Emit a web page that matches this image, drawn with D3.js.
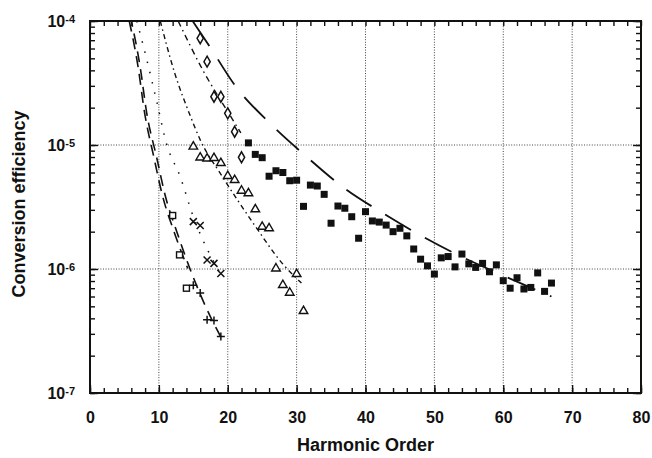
<!DOCTYPE html>
<html>
<head>
<meta charset="utf-8">
<script src="https://cdn.jsdelivr.net/npm/d3@7"></script>
<style>
  body { margin: 0; background: #fff; }
  svg text { font-family: "Liberation Sans", Arial, Helvetica, sans-serif; font-weight: bold; fill: #111; }
</style>
</head>
<body>
<svg id="chart" width="652" height="458"></svg>
<script>
// harmonic order vs conversion efficiency

var xTicks = [0, 10, 20, 30, 40, 50, 60, 70, 80];
var xGrid = [10, 20, 30, 40, 50, 60, 70];
var yTicks = [1e-7, 1e-6, 1e-5, 1e-4];
var yTickExp = ["-7", "-6", "-5", "-4"];
var yGrid = [1e-6, 1e-5];

// filled squares
var sqFilledH = [23, 24, 25, 26, 27, 28, 29, 30, 31, 32, 33, 34, 35, 36, 37, 38, 39, 40, 41, 42, 43, 44, 45,
  46, 47, 48, 49, 50, 51, 52, 53, 54, 55, 56, 57, 58, 59, 60, 61, 62, 63, 64, 65, 66, 67];
var sqFilledV = [1.04e-5, 8.4e-6, 7.9e-6, 5.6e-6, 6.2e-6, 6.0e-6, 5.15e-6, 5.2e-6, 3.2e-6, 4.75e-6, 4.67e-6,
  4.0e-6, 2.34e-6, 3.22e-6, 3.09e-6, 2.64e-6, 1.77e-6, 2.9e-6, 2.44e-6, 2.39e-6, 2.26e-6, 2.0e-6, 2.13e-6,
  1.85e-6, 1.45e-6, 1.2e-6, 1.06e-6, 9.1e-7, 1.23e-6, 1.26e-6, 1.04e-6, 1.32e-6, 1.1e-6, 1.03e-6, 1.11e-6,
  9.5e-7, 1.08e-6, 8.05e-7, 7.0e-7, 8.5e-7, 6.9e-7, 7.1e-7, 9.3e-7, 6.6e-7, 7.7e-7];

// open diamonds
var diamondH = [16, 17, 18, 19, 20, 21, 22];
var diamondV = [7.25e-5, 4.7e-5, 2.45e-5, 2.45e-5, 1.8e-5, 1.28e-5, 7.96e-6];

// open triangles
var triH = [15, 16, 17, 18, 19, 20, 21, 22, 23, 24, 25, 26, 27, 28, 29, 30, 31];
var triV = [9.7e-6, 7.93e-6, 7.78e-6, 7.85e-6, 7.16e-6, 5.62e-6, 5.22e-6, 4.28e-6, 4.08e-6, 3.03e-6, 2.19e-6,
  2.13e-6, 1.01e-6, 7.43e-7, 6.44e-7, 9.1e-7, 4.58e-7];

// crosses
var crossH = [15, 16, 17, 18, 19];
var crossV = [2.41e-6, 2.24e-6, 1.18e-6, 1.11e-6, 9.2e-7];

// open squares
var sqOpenH = [12, 13, 14];
var sqOpenV = [2.7e-6, 1.3e-6, 7.0e-7];

// pluses
var plusH = [15, 16, 17, 18, 19];
var plusV = [7.4e-7, 6.4e-7, 3.9e-7, 3.85e-7, 2.85e-7];

// fitted / model curves
var longDashH = [14.9, 17.4, 21.0, 26.1, 31.5, 36.9, 42.4, 47.9, 53.4, 59.5, 67.0];
var longDashV = [1e-4, 6.2e-5, 3.05e-5, 1.5e-5, 8.0e-6, 4.5e-6, 2.85e-6, 1.88e-6, 1.3e-6, 9.1e-7, 6.0e-7];
var diaFitH = [12.8, 16.4, 20.6, 21.9];
var diaFitV = [1e-4, 4.0e-5, 1.64e-5, 1.25e-5];
var triFitH = [10.2, 12.3, 14.5, 16.0, 19.1, 23.7, 28.1, 30.7];
var triFitV = [1e-4, 3.8e-5, 1.75e-5, 1.1e-5, 5.7e-6, 2.34e-6, 1.08e-6, 7.7e-7];
var dotFitH = [6.8, 8.2, 9.7, 11.1, 13.1, 15.0, 17.2, 19.0];
var dotFitV = [1e-4, 5.0e-5, 2.23e-5, 1.03e-5, 5.55e-6, 2.64e-6, 1.38e-6, 9.1e-7];
var sqFitH = [5.7, 7.0, 7.9, 9.3, 10.5, 12.2, 14.2];
var sqFitV = [1e-4, 4.2e-5, 1.86e-5, 7.85e-6, 3.95e-6, 2.0e-6, 1.01e-6];
var plusFitH = [6.0, 7.3, 8.2, 9.7, 10.9, 12.6, 14.5, 16.7, 19.1];
var plusFitV = [1e-4, 4.2e-5, 1.86e-5, 7.85e-6, 3.95e-6, 2.0e-6, 1.01e-6, 5.1e-7, 2.76e-7];

(function() {
  var pL = 90, pR = 641, pT = 21, pB = 393;

  var svg = d3.select("#chart");
  var x = d3.scaleLinear().domain([0, 80]).range([pL, pR]);
  var y = d3.scaleLog().domain([1e-7, 1e-4]).range([pB, pT]);

  function zip(hs, vs) {
    return hs.map(function(h, i) { return { h: h, v: vs[i] }; });
  }

  svg.append("clipPath").attr("id", "plotClip")
    .append("rect").attr("x", pL).attr("y", pT)
    .attr("width", pR - pL).attr("height", pB - pT);

  // dotted grid
  svg.selectAll(".gx").data(xGrid).enter().append("line")
    .attr("x1", function(d) { return x(d); }).attr("x2", function(d) { return x(d); })
    .attr("y1", pT).attr("y2", pB)
    .attr("stroke", "#444").attr("stroke-width", 1).attr("stroke-dasharray", "1,1.6");
  svg.selectAll(".gy").data(yGrid).enter().append("line")
    .attr("y1", function(d) { return y(d); }).attr("y2", function(d) { return y(d); })
    .attr("x1", pL).attr("x2", pR)
    .attr("stroke", "#444").attr("stroke-width", 1).attr("stroke-dasharray", "1,1.6");

  // inward ticks, all four sides
  function tidy(g) {
    g.select(".domain").remove();
    g.selectAll(".tick line").attr("stroke", "#111").attr("stroke-width", 1.4);
  }
  svg.append("g").attr("transform", "translate(0," + pB + ")")
    .call(d3.axisBottom(x).ticks(40).tickSize(-5).tickFormat("")).call(tidy);
  svg.append("g").attr("transform", "translate(0," + pT + ")")
    .call(d3.axisTop(x).ticks(40).tickSize(-5).tickFormat("")).call(tidy);
  svg.append("g").attr("transform", "translate(" + pL + ",0)")
    .call(d3.axisLeft(y).tickValues(y.ticks()).tickSize(-5).tickFormat("")).call(tidy);
  svg.append("g").attr("transform", "translate(" + pR + ",0)")
    .call(d3.axisRight(y).tickValues(y.ticks()).tickSize(-5).tickFormat("")).call(tidy);
  svg.append("g").attr("transform", "translate(" + pL + ",0)")
    .call(d3.axisLeft(y).tickValues(yTicks).tickSize(-8).tickFormat("")).call(tidy);
  svg.append("g").attr("transform", "translate(" + pR + ",0)")
    .call(d3.axisRight(y).tickValues(yTicks).tickSize(-8).tickFormat("")).call(tidy);

  // x tick labels
  var xa = svg.append("g").attr("transform", "translate(0," + pB + ")")
    .call(d3.axisBottom(x).tickValues(xTicks).tickSize(-8).tickPadding(19));
  tidy(xa);
  xa.attr("font-family", null);
  xa.selectAll("text").attr("font-size", 16);

  // y tick labels 10^n
  var yl = svg.selectAll(".ylab").data(yTicks).enter().append("text")
    .attr("x", 75).attr("y", function(d) { return y(d) + 5.5; })
    .attr("text-anchor", "end").attr("font-size", 16);
  yl.append("tspan").text("10");
  yl.append("tspan").attr("font-size", 11).attr("dy", -4)
    .text(function(d, i) { return yTickExp[i]; });

  // frame
  svg.append("rect").attr("x", pL).attr("y", pT)
    .attr("width", pR - pL).attr("height", pB - pT)
    .attr("fill", "none").attr("stroke", "#111").attr("stroke-width", 2);

  // curves
  var line = d3.line()
    .x(function(d) { return x(d.h); })
    .y(function(d) { return y(d.v); })
    .curve(d3.curveMonotoneX);

  var curves = svg.append("g").attr("clip-path", "url(#plotClip)")
    .attr("fill", "none").attr("stroke", "#111");

  curves.append("path").datum(zip(longDashH, longDashV)).attr("d", line)
    .attr("stroke-width", 1.8).attr("stroke-dasharray", "30,16");
  curves.append("path").datum(zip(diaFitH, diaFitV)).attr("d", line)
    .attr("stroke-width", 1.4).attr("stroke-dasharray", "6,4,1.5,4");
  curves.append("path").datum(zip(triFitH, triFitV)).attr("d", line)
    .attr("stroke-width", 1.4).attr("stroke-dasharray", "5,3.5,1.5,3.5");
  curves.append("path").datum(zip(dotFitH, dotFitV)).attr("d", line)
    .attr("stroke-width", 1.5).attr("stroke-dasharray", "1.5,9");
  curves.append("path").datum(zip(sqFitH, sqFitV)).attr("d", line)
    .attr("stroke-width", 1.6).attr("stroke-dasharray", "11,7");
  curves.append("path").datum(zip(plusFitH, plusFitV)).attr("d", line)
    .attr("stroke-width", 1.6).attr("stroke-dasharray", "11,7").attr("stroke-dashoffset", 5);

  // markers
  function pos(d) { return "translate(" + x(d.h) + "," + y(d.v) + ")"; }

  svg.append("g").selectAll("rect").data(zip(sqFilledH, sqFilledV)).enter().append("rect")
    .attr("x", function(d) { return x(d.h) - 3.5; })
    .attr("y", function(d) { return y(d.v) - 3.5; })
    .attr("width", 7).attr("height", 7).attr("fill", "#111");

  svg.append("g").selectAll("rect").data(zip(sqOpenH, sqOpenV)).enter().append("rect")
    .attr("x", function(d) { return x(d.h) - 3; })
    .attr("y", function(d) { return y(d.v) - 3; })
    .attr("width", 6).attr("height", 6)
    .attr("fill", "#fff").attr("stroke", "#111").attr("stroke-width", 1.4);

  svg.append("g").selectAll("path").data(zip(diamondH, diamondV)).enter().append("path")
    .attr("transform", pos)
    .attr("d", d3.symbol().type(d3.symbolDiamond).size(34))
    .attr("fill", "#fff").attr("stroke", "#111").attr("stroke-width", 1.5);

  svg.append("g").selectAll("path").data(zip(triH, triV)).enter().append("path")
    .attr("transform", pos)
    .attr("d", d3.symbol().type(d3.symbolTriangle).size(32))
    .attr("fill", "#fff").attr("stroke", "#111").attr("stroke-width", 1.4);

  svg.append("g").selectAll("path").data(zip(crossH, crossV)).enter().append("path")
    .attr("transform", pos)
    .attr("d", "M-3.5,-3.5L3.5,3.5M-3.5,3.5L3.5,-3.5")
    .attr("fill", "none").attr("stroke", "#111").attr("stroke-width", 1.5);

  svg.append("g").selectAll("path").data(zip(plusH, plusV)).enter().append("path")
    .attr("transform", pos)
    .attr("d", "M-4,0L4,0M0,-4L0,4")
    .attr("fill", "none").attr("stroke", "#111").attr("stroke-width", 1.5);

  // axis titles
  svg.append("text").attr("x", (pL + pR) / 2).attr("y", 451)
    .attr("text-anchor", "middle").attr("font-size", 18).text("Harmonic Order");
  svg.append("text").attr("transform", "translate(25," + ((pT + pB) / 2 - 3) + ") rotate(-90)")
    .attr("text-anchor", "middle").attr("font-size", 18).text("Conversion efficiency");
})();
</script>
</body>
</html>
